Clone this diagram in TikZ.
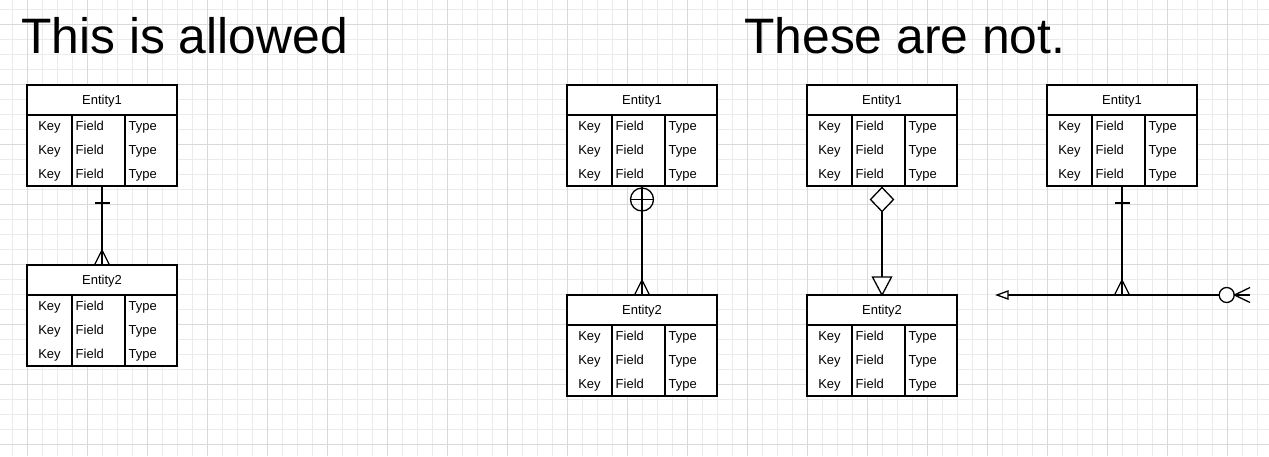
\documentclass[tikz,border=0pt]{standalone}
\usepackage{fontspec}
\setmainfont{Liberation Sans}
\usetikzlibrary{positioning,calc}
\definecolor{gridminor}{HTML}{EBEBEB}
\definecolor{gridmajor}{HTML}{D9D9D9}
\definecolor{inkline}{HTML}{000000}

\tikzset{
  erline/.style={draw=inkline, line width=1.3pt},
  erbox/.style={draw=inkline, fill=white, line width=1.3pt, minimum width=150pt,
    minimum height=101pt, inner sep=0pt, outer sep=0pt},
  ertext/.style={inner sep=0pt, font=\fontsize{13}{15}\selectfont},
  bigtitle/.style={inner sep=0pt, anchor=base west, font=\fontsize{49.8}{55}\selectfont},
}

% one entity table, top left corner at (#2,#3)
\newcommand{\erentity}[4]{%
  \node[erbox, anchor=north west] (#1) at (#2,#3) {};
  \draw[erline] (#2,#3+30) -- (#2+150,#3+30)
    (#2+45,#3+30) -- (#2+45,#3+101)
    (#2+98,#3+30) -- (#2+98,#3+101);
  \node[ertext, anchor=base] (#1-h) at (#2+75,#3+19) {#4};
  \foreach \r/\dy in {1/45,2/69,3/93} {
    \node[ertext, anchor=base] (#1-k\r) at (#2+22.5,#3+\dy) {Key};
    \node[ertext, anchor=base west] (#1-f\r) at (#2+48.5,#3+\dy) {Field};
    \node[ertext, anchor=base west] (#1-t\r) at (#2+101.5,#3+\dy) {Type};
  }%
}

\begin{document}
\begin{tikzpicture}[x=1pt,y=-1pt]
\useasboundingbox (0,0) rectangle (1269,456);
\fill[white] (0,0) rectangle (1269,456);
% grid
\foreach \k in {0,...,84} \draw[gridminor, line width=1pt] (12+15*\k,0) -- (12+15*\k,456);
\foreach \k in {0,...,29} \draw[gridminor, line width=1pt] (0,9+15*\k) -- (1269,9+15*\k);
\foreach \k in {0,...,20} \draw[gridmajor, line width=1pt] (27+60*\k,0) -- (27+60*\k,456);
\foreach \k in {0,...,7} \draw[gridmajor, line width=1pt] (0,24+60*\k) -- (1269,24+60*\k);

\node[bigtitle] (okTitle) at (21,53) {This is allowed};
\node[bigtitle] (notTitle) at (744,53) {These are not.};

\erentity{okOne}{27}{85}{Entity1}
\erentity{okTwo}{27}{265}{Entity2}
\erentity{circOne}{567}{85}{Entity1}
\erentity{circTwo}{567}{295}{Entity2}
\erentity{diaOne}{807}{85}{Entity1}
\erentity{diaTwo}{807}{295}{Entity2}
\erentity{lineOne}{1047}{85}{Entity1}

% allowed: one to many
\draw[erline] (okOne.south) -- (okTwo.north);
\draw[erline] ($(okOne.south)+(-7.5,17)$) -- ++(15,0);
\draw[erline] ($(okTwo.north)+(-7.5,0)$) -- ($(okTwo.north)+(0,-15)$) -- ($(okTwo.north)+(7.5,0)$);

% circle with cross
\draw[erline] (circOne.south) -- (circTwo.north);
\draw[erline] ($(circOne.south)+(0,13.5)$) circle[radius=11.5pt];
\draw[erline] ($(circOne.south)+(-11.5,13.5)$) -- ++(23,0);
\draw[erline] ($(circTwo.north)+(-7.5,0)$) -- ($(circTwo.north)+(0,-15)$) -- ($(circTwo.north)+(7.5,0)$);

% diamond and triangle
\draw[erline] (diaOne.south) -- (diaTwo.north);
\draw[erline, fill=white] ($(diaOne.south)+(0,1.5)$) -- ++(11.5,12) -- ++(-11.5,12) -- ++(-11.5,-12) -- cycle;
\draw[erline, fill=white, line join=miter] (diaTwo.north) -- ++(-9.5,-18) -- ++(19,0) -- cycle;

% line ending on another line
\coordinate (lineL) at (997,295);
\coordinate (lineR) at (1250,295);
\draw[erline] (lineOne.south) -- (lineOne.south |- lineL);
\draw[erline] ($(lineOne.south)+(-7.5,17)$) -- ++(15,0);
\draw[erline] ($(lineOne.south |- lineL)+(-7.5,0)$) -- ($(lineOne.south |- lineL)+(0,-15)$) -- ($(lineOne.south |- lineL)+(7.5,0)$);
\draw[erline] (lineL) -- (lineR);
\draw[erline, fill=white] (lineL) -- ++(11,-4) -- ++(0,8) -- cycle;
\draw[erline, fill=white] ($(lineR)+(-23.3,0)$) circle[radius=7.5pt];
\draw[erline] ($(lineR)+(0,-7.5)$) -- ($(lineR)+(-15.5,0)$) -- ($(lineR)+(0,7.5)$);
\end{tikzpicture}
\end{document}
